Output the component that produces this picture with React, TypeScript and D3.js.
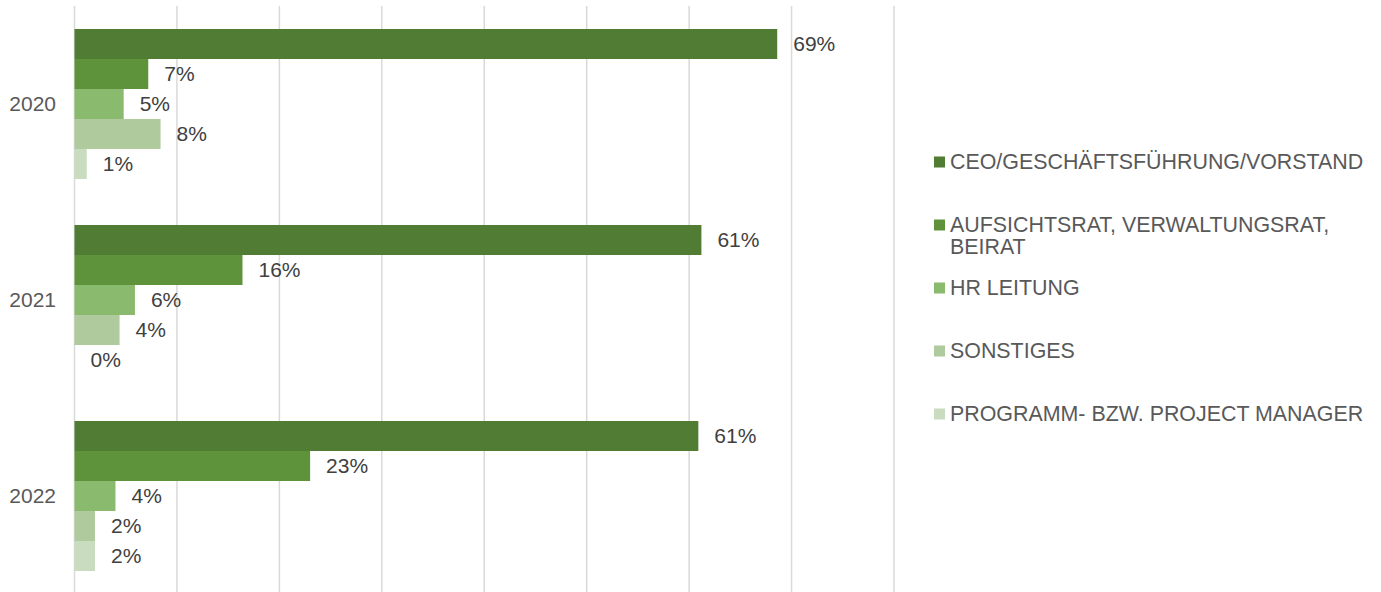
import React from "react";
import * as d3 from "d3";

const years = ["2020", "2021", "2022"];
const seriesNames = [
  "CEO/GESCHÄFTSFÜHRUNG/VORSTAND",
  "AUFSICHTSRAT, VERWALTUNGSRAT, BEIRAT",
  "HR LEITUNG",
  "SONSTIGES",
  "PROGRAMM- BZW. PROJECT MANAGER",
];
const legendLines = [
  ["CEO/GESCHÄFTSFÜHRUNG/VORSTAND"],
  ["AUFSICHTSRAT, VERWALTUNGSRAT,", "BEIRAT"],
  ["HR LEITUNG"],
  ["SONSTIGES"],
  ["PROGRAMM- BZW. PROJECT MANAGER"],
];
const colors = ["#507d33", "#5e933c", "#8aba6e", "#afcb9e", "#cadcc0"];
// values in percent, per year, per series
const values2020 = [68.6, 7.2, 4.8, 8.4, 1.2];
const values2021 = [61.2, 16.4, 5.9, 4.4, 0];
const values2022 = [60.9, 23.0, 4.0, 2.0, 2.0];
const valuesByYear = [values2020, values2021, values2022];
const xTicks = [0, 10, 20, 30, 40, 50, 60, 70, 80];

const W = 1381;
const H = 592;
const FONT = "'Liberation Sans', Arial, sans-serif";
const FS = 21;
const LEGEND_FS = 21.4;

export default function App() {
  const x = d3.scaleLinear().domain([0, 80]).range([74.5, 894]);
  const y = d3
    .scaleBand<string>()
    .domain(years)
    .range([6, 594])
    .paddingInner(46 / 196)
    .paddingOuter((46 / 196) / 2);
  const inner = d3
    .scaleBand<string>()
    .domain(seriesNames)
    .range([0, y.bandwidth()])
    .padding(0);
  const legendY = d3.scalePoint<string>().domain(seriesNames).range([162, 414]);

  return (
    <svg
      width={W}
      height={H}
      style={{ position: "absolute", left: 0, top: 0, background: "#fff" }}
      fontFamily={FONT}
    >
      {xTicks.map((t) => (
        <line
          key={t}
          x1={x(t)}
          x2={x(t)}
          y1={6}
          y2={592}
          stroke="#d9d9d9"
          strokeWidth={1.5}
        />
      ))}
      {years.map((yr, i) => (
        <g key={yr} transform={`translate(0,${y(yr)})`}>
          {seriesNames.map((s, j) => {
            const v = valuesByYear[i][j];
            const by = inner(s)!;
            const bh = inner.bandwidth();
            return (
              <g key={s}>
                {v > 0 && (
                  <rect
                    x={x(0)}
                    y={by}
                    width={x(v) - x(0)}
                    height={bh}
                    fill={colors[j]}
                  />
                )}
                <text
                  x={x(v) + 16}
                  y={by + bh / 2}
                  dy="0.35em"
                  fontSize={FS}
                  fill="#404040"
                >
                  {Math.round(v) + "%"}
                </text>
              </g>
            );
          })}
          <text
            x={56}
            y={y.bandwidth() / 2}
            dy="0.35em"
            textAnchor="end"
            fontSize={FS}
            fill="#595959"
          >
            {yr}
          </text>
        </g>
      ))}
      {seriesNames.map((s, j) => {
        const cy = legendY(s)!;
        return (
          <g key={s}>
            <rect x={934} y={cy - 5.5} width={11} height={11} fill={colors[j]} />
            {legendLines[j].map((ln, k) => (
              <text
                key={k}
                x={950}
                y={cy + k * 22}
                dy="0.35em"
                fontSize={LEGEND_FS}
                fill="#595959"
              >
                {ln}
              </text>
            ))}
          </g>
        );
      })}
    </svg>
  );
}
